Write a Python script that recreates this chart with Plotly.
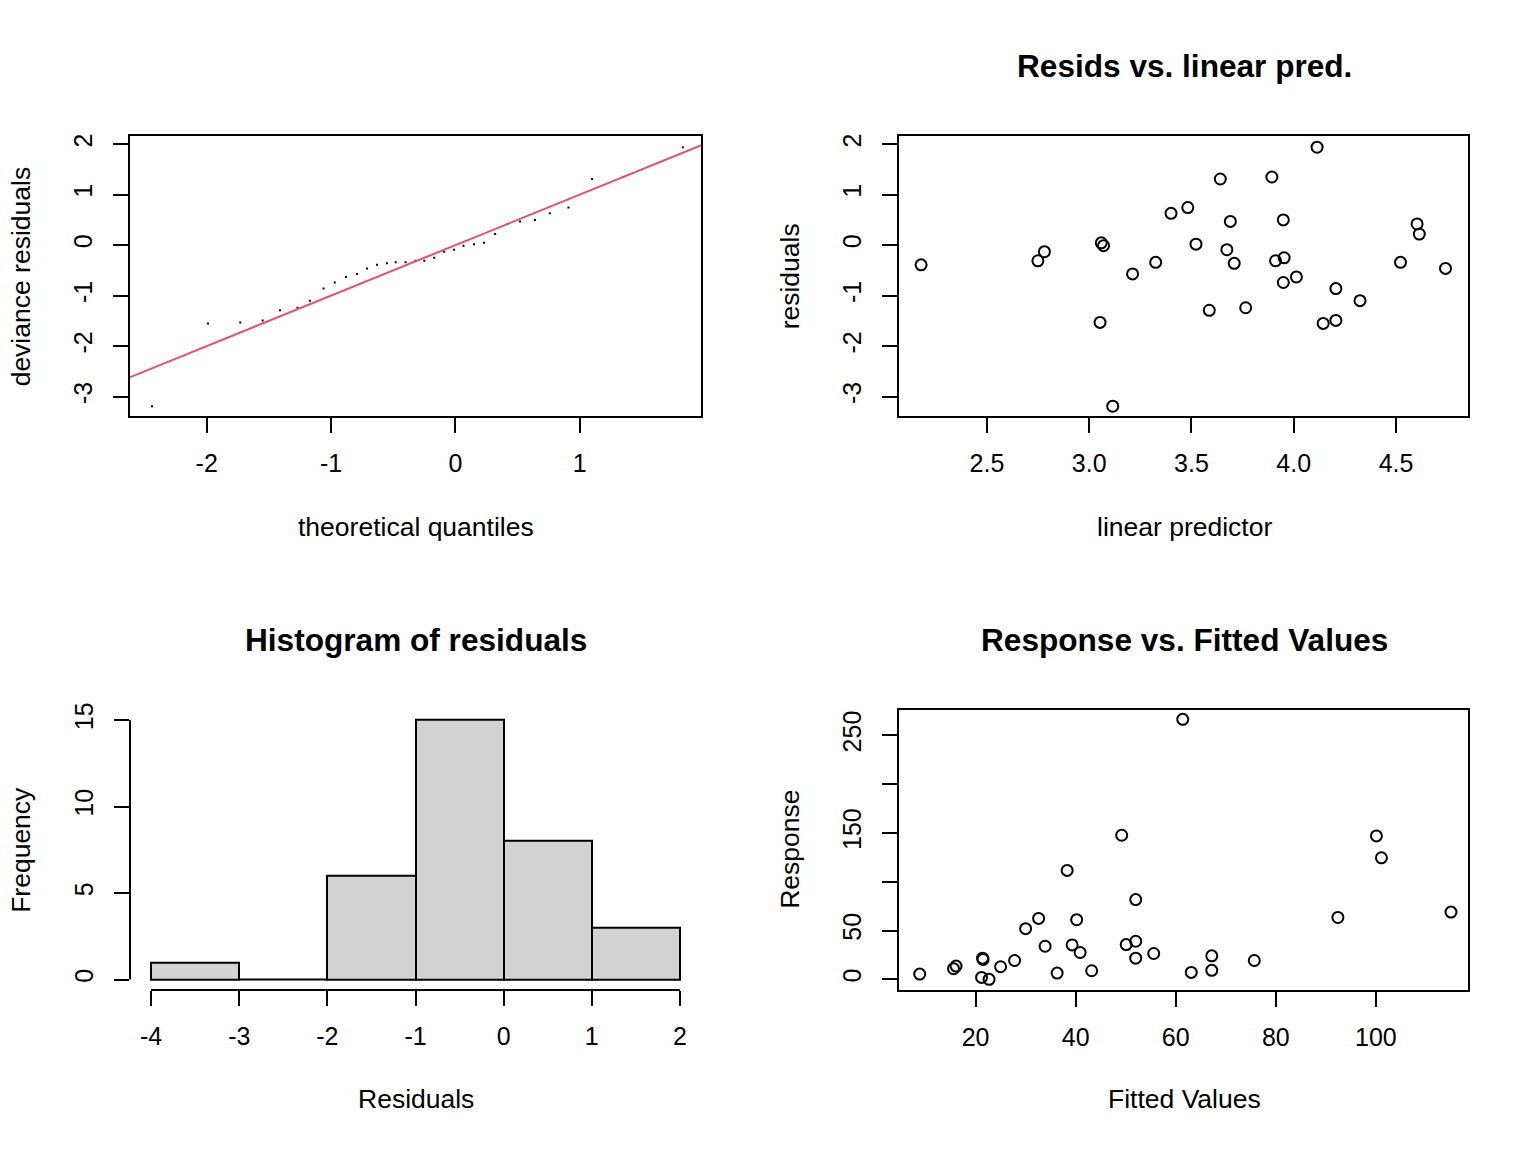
import plotly.graph_objects as go
from plotly.subplots import make_subplots

# residuals vs linear predictor
linear_pred = [2.178, 2.749, 2.781, 3.059, 3.070, 3.053, 3.115, 3.212, 3.325, 3.400, 3.482,
               3.522, 3.587, 3.641, 3.673, 3.690, 3.709, 3.765, 3.893, 3.911, 3.949, 3.953,
               3.949, 4.013, 4.114, 4.144, 4.206, 4.206, 4.324, 4.522, 4.603, 4.614, 4.742]
resids = [-0.39, -0.31, -0.13, 0.046, -0.01, -1.53, -3.19, -0.57, -0.34, 0.63, 0.745,
          0.02, -1.29, 1.31, -0.09, 0.47, -0.36, -1.24, 1.35, -0.31, 0.50, -0.25,
          -0.74, -0.63, 1.94, -1.55, -0.86, -1.49, -1.10, -0.34, 0.42, 0.22, -0.46]

# theoretical quantiles for the QQ plot (sorted)
qq_theoretical = [-2.44, -1.99, -1.73, -1.55, -1.41, -1.27, -1.17, -1.06, -0.97, -0.88, -0.79,
                  -0.71, -0.63, -0.55, -0.48, -0.40, -0.32, -0.25, -0.17, -0.09, -0.01, 0.065,
                  0.15, 0.23, 0.32, 0.42, 0.52, 0.64, 0.76, 0.91, 1.10, 1.35, 1.83]
qq_resids = sorted(resids)

# response vs fitted values
fitted = [8.84, 15.6, 16.1, 21.4, 21.5, 21.2, 22.7, 25.0, 27.8, 30.0, 32.6, 33.9, 36.3,
          38.3, 39.3, 40.2, 40.9, 43.2, 49.2, 50.1, 52.0, 52.0, 52.0, 55.6, 61.4, 63.1,
          67.2, 67.2, 75.7, 92.4, 100.1, 101.1, 115.0]
response = [5.4, 10.9, 13.6, 21.7, 20.4, 2.0, 0.0, 12.9, 19.3, 51.9, 62.4, 33.9, 6.4,
            111.6, 35.3, 61.1, 27.5, 8.8, 147.6, 35.6, 39.0, 81.7, 21.7, 26.5, 266.3, 7.1,
            24.1, 9.2, 19.3, 63.4, 146.9, 124.5, 68.9]

qq_xticks = [-2, -1, 0, 1]
resid_ticks = [-3, -2, -1, 0, 1, 2]
lp_ticks = [2.5, 3.0, 3.5, 4.0, 4.5]
lp_labels = ['2.5', '3.0', '3.5', '4.0', '4.5']
hist_ticks = [-4, -3, -2, -1, 0, 1, 2]
freq_ticks = [0, 5, 10, 15]
fit_ticks = [20, 40, 60, 80, 100]
resp_ticks = [0, 50, 100, 150, 200, 250]
resp_labels = ['0', '50', '', '150', '', '250']

W, H = 1536, 1152
FONT = 'Liberation Sans'
red = '#DF536B'

fig = make_subplots(rows=2, cols=2)

fig.add_trace(go.Scatter(x=qq_theoretical, y=qq_resids, mode='markers',
                         marker=dict(symbol='square', size=2, color='black')), 1, 1)
fig.add_trace(go.Scatter(x=[-3, 3], y=[-3, 3], mode='lines',
                         line=dict(color=red, width=2)), 1, 1)

fig.add_trace(go.Scatter(x=linear_pred, y=resids, mode='markers',
                         marker=dict(symbol='circle-open', size=11, color='black',
                                     line=dict(width=2, color='black'))), 1, 2)

fig.add_trace(go.Histogram(x=resids, xbins=dict(start=-4, end=2, size=1),
                           marker=dict(color='#D3D3D3', line=dict(color='black', width=2))), 2, 1)

fig.add_trace(go.Scatter(x=fitted, y=response, mode='markers',
                         marker=dict(symbol='circle-open', size=11, color='black',
                                     line=dict(width=2, color='black'))), 2, 2)

# panel positions in pixels (left, right, top, bottom)
boxes = {1: (130, 701, 130, 412), 2: (899, 1468, 130, 412),
         3: (130, 701, 707, 989), 4: (899, 1468, 707, 989)}

axis_style = dict(showgrid=False, zeroline=False, ticks='outside', ticklen=15, tickwidth=2,
                  tickcolor='black', tickfont=dict(family=FONT, size=25, color='black'))

for i, (l, r, t, b) in boxes.items():
    sfx = '' if i == 1 else str(i)
    boxed = i != 3
    fig.layout['xaxis' + sfx].update(domain=[l / W, r / W], showline=boxed, mirror=boxed,
                                      linecolor='black', linewidth=2, ticklabelstandoff=9,
                                      **axis_style)
    fig.layout['yaxis' + sfx].update(domain=[1 - b / H, 1 - t / H], showline=boxed,
                                      mirror=boxed, linecolor='black', linewidth=2,
                                      tickangle=-90, ticklabelstandoff=11, **axis_style)


def labels(vals):
    return [str(v) for v in vals]


fig.update_xaxes(range=[-2.617, 1.976], tickvals=qq_xticks, ticktext=labels(qq_xticks),
                 row=1, col=1)
fig.update_yaxes(range=[-3.394, 2.158], tickvals=resid_ticks, ticktext=labels(resid_ticks),
                 row=1, col=1)
fig.update_xaxes(range=[2.070, 4.852], tickvals=lp_ticks, ticktext=lp_labels, row=1, col=2)
fig.update_yaxes(range=[-3.394, 2.158], tickvals=resid_ticks, ticktext=labels(resid_ticks),
                 row=1, col=2)
fig.update_xaxes(range=[-4.24, 2.24], tickvals=hist_ticks, ticktext=labels(hist_ticks),
                 row=2, col=1)
fig.update_yaxes(range=[-0.6, 15.6], tickvals=freq_ticks, ticktext=labels(freq_ticks),
                 row=2, col=1)
fig.update_xaxes(range=[4.7, 118.4], tickvals=fit_ticks, ticktext=labels(fit_ticks),
                 row=2, col=2)
fig.update_yaxes(range=[-10.9, 276.2], tickvals=resp_ticks, ticktext=resp_labels, row=2, col=2)

# histogram axes only span the tick range, as in R
fig.add_shape(type='line', xref='x3', yref='y3 domain', x0=min(hist_ticks), x1=max(hist_ticks),
              y0=0, y1=0, line=dict(color='black', width=2))
fig.add_shape(type='line', xref='x3 domain', yref='y3', x0=0, x1=0, y0=min(freq_ticks),
              y1=max(freq_ticks), line=dict(color='black', width=2))
# R also outlines the empty bin along the baseline
fig.add_shape(type='line', xref='x3', yref='y3', x0=-3, x1=-2, y0=0, y1=0,
              line=dict(color='black', width=2))


def txt(s, x, y, size=26.5, angle=0):
    fig.add_annotation(text=s, x=x / W, y=1 - y / H, xref='paper', yref='paper',
                       showarrow=False, textangle=angle, xanchor='center', yanchor='middle',
                       font=dict(family=FONT, size=size, color='black'))


txt('<b>Resids vs. linear pred.</b>', 1184, 59, 31.6)
txt('<b>Histogram of residuals</b>', 416, 637, 31.6)
txt('<b>Response vs. Fitted Values</b>', 1184, 637, 31.6)
txt('theoretical quantiles', 416, 523)
txt('linear predictor', 1184, 523)
txt('Residuals', 416, 1099)
txt('Fitted Values', 1184, 1099)
txt('deviance residuals', 21, 271, angle=-90)
txt('residuals', 790, 271, angle=-90)
txt('Frequency', 21, 848, angle=-90)
txt('Response', 790, 848, angle=-90)

fig.update_layout(width=W, height=H, autosize=False, margin=dict(l=0, r=0, t=0, b=0),
                  showlegend=False, bargap=0, plot_bgcolor='white', paper_bgcolor='white',
                  font=dict(family=FONT, color='black'))

fig.write_html("out.html", config={'displayModeBar': False},
               post_script="document.body.style.margin='0';")
